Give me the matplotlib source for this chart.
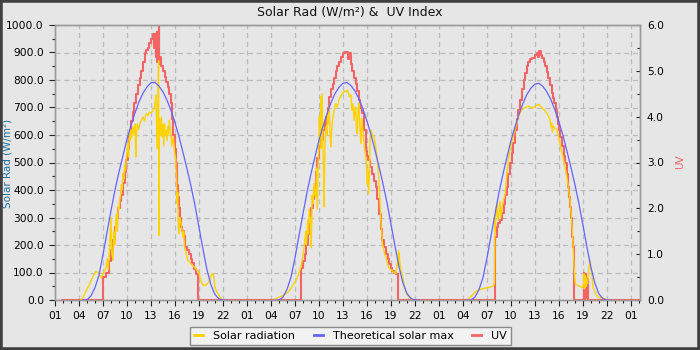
import matplotlib
matplotlib.use("Agg")
import matplotlib.pyplot as plt
import numpy as np
from matplotlib.ticker import FixedLocator, MultipleLocator, FuncFormatter, FormatStrFormatter
from matplotlib.patches import Rectangle
from matplotlib.lines import Line2D

# ---------------- data (clock hours per day) -------------
# Theoretical solar max (W/m2), half-hourly clock times
max_t = [4.5, 5.0, 5.5, 6.0, 6.5, 7.0, 7.5, 8.0, 8.5, 9.0, 9.5, 10.0, 10.5, 11.0, 11.5, 12.0,
         12.5, 13.0, 13.5, 14.0, 14.5, 15.0, 15.5, 16.0, 16.5, 17.0, 17.5, 18.0, 18.5, 19.0,
         19.5, 20.0, 20.5, 21.0, 21.5, 22.0, 22.5]
max_day1 = [0, 1, 15, 45, 90, 165, 245, 325, 400, 465, 525, 585, 635, 680, 720, 752, 775, 790,
            791, 778, 757, 727, 690, 645, 595, 537, 478, 415, 345, 265, 185, 110, 55, 20, 4, 0, 0]
max_day2 = [0, 0, 10, 38, 82, 152, 232, 312, 390, 458, 520, 580, 630, 676, 717, 750, 773, 788,
            791, 780, 760, 732, 695, 652, 603, 546, 487, 424, 356, 278, 198, 122, 63, 24, 6, 0, 0]
max_day3 = [0, 0, 10, 37, 80, 150, 230, 310, 388, 456, 518, 578, 628, 674, 714, 747, 770, 785,
            788, 777, 757, 729, 692, 649, 600, 543, 484, 421, 353, 275, 195, 120, 62, 23, 5, 0, 0]

# Solar radiation (W/m2)
solar_t_day1 = [4.3, 4.6, 4.9, 5.2, 5.5, 5.8, 6.1, 6.35, 6.6, 6.8, 7.0, 7.2, 7.4, 7.55, 7.65,
                7.8, 7.9, 8.0, 8.1, 8.25, 8.35, 8.5, 8.6, 8.7, 8.8, 8.9, 9.0, 9.1, 9.2, 9.3, 9.4,
                9.5, 9.6, 9.7, 9.8, 9.9, 10.0, 10.1, 10.2, 10.3, 10.4, 10.5, 10.6, 10.75, 10.9,
                11.0, 11.1, 11.2, 11.3, 11.45, 11.6, 11.8, 12.0, 12.2, 12.4, 12.6, 12.8, 13.0,
                13.25, 13.4, 13.5, 13.6, 13.7, 13.8, 13.85, 13.95, 14.0, 14.05, 14.15, 14.3, 14.4,
                14.5, 14.6, 14.7, 14.8, 14.9, 15.0, 15.1, 15.2, 15.3, 15.4, 15.5, 15.6, 15.8,
                15.95, 16.1, 16.2, 16.25, 16.35, 16.4, 16.5, 16.6, 16.7, 16.85, 17.0, 17.1, 17.2,
                17.4, 17.6, 17.8, 18.0, 18.2, 18.45, 18.7, 18.9, 19.1, 19.3, 19.5, 19.75, 20.0,
                20.2, 20.4, 20.6, 20.8, 20.9, 21.0, 21.2, 21.4, 21.6, 21.8, 22.2]
solar_v_day1 = [0, 15, 34, 50, 70, 88, 105, 100, 89, 80, 95, 105, 119, 150, 110,
                168, 230, 300, 170, 145, 250, 200, 290, 313, 250, 340, 330, 362, 380, 420, 400,
                460, 440, 490, 470, 508, 540, 570, 520, 605, 580, 620, 590, 630, 600,
                640, 520, 605, 640, 620, 640, 655, 666, 650, 678, 670, 684, 680,
                690, 700, 714, 745, 654, 550, 700, 870, 235, 660, 600, 666, 593,
                640, 560, 640, 600, 617, 580, 630, 600, 654, 620, 605, 560, 593,
                540, 508, 420, 350, 390, 290, 240, 300, 290, 260, 228, 250, 192,
                168, 143, 140, 131, 125, 119, 110, 107, 85, 64, 55, 52, 58,
                64, 80, 95, 95, 70, 46, 32, 22, 12, 4, 0]

solar_t_day2 = [4.5, 4.8, 5.2, 5.6, 6.0, 6.3, 6.7, 7.1, 7.4, 7.75, 8.0, 8.2, 8.35, 8.45, 8.6,
                8.7, 8.8, 8.9, 9.0, 9.05, 9.15, 9.25, 9.4, 9.5, 9.6, 9.7, 9.8, 9.9, 10.0, 10.05,
                10.15, 10.25, 10.3, 10.4, 10.5, 10.6, 10.65, 10.75, 10.9, 11.0, 11.1, 11.2, 11.3,
                11.4, 11.5, 11.6, 11.7, 11.9, 12.1, 12.3, 12.5, 12.7, 12.95, 13.2, 13.4, 13.6,
                13.8, 14.0, 14.1, 14.25, 14.4, 14.5, 14.6, 14.7, 14.8, 14.9, 15.0, 15.1, 15.25,
                15.35, 15.45, 15.6, 15.8, 15.95, 16.05, 16.15, 16.2, 16.3, 16.4, 16.5, 16.7, 16.9,
                17.1, 17.3, 17.5, 17.6, 17.75, 17.95, 18.2, 18.4, 18.6, 18.8, 19.0, 19.2, 19.4,
                19.6, 19.8, 19.95, 20.0, 20.05, 20.1, 20.25, 20.4, 20.55, 20.7, 20.9, 21.1, 21.5,
                21.8]
solar_v_day2 = [0, 8, 12, 18, 25, 34, 50, 70, 90, 119, 160, 204, 250, 200, 290,
                240, 330, 280, 300, 190, 380, 350, 423, 380, 374, 480, 330, 495, 560, 666,
                600, 739, 550, 750, 560, 450, 338, 560, 630, 600, 680, 640, 702,
                600, 556, 620, 654, 690, 714, 700, 727, 740, 751, 760, 757, 763,
                739, 745, 690, 714, 654, 700, 702, 620, 605, 690, 714, 640, 569,
                660, 630, 580, 532, 495, 420, 470, 386, 450, 580, 617, 600, 593,
                560, 508, 435, 380, 290, 204, 170, 155, 130, 113, 110, 107, 100,
                95, 130, 180, 120, 170, 143, 110, 95, 70, 46, 30, 16, 4,
                0]

solar_t_day3 = [4.6, 4.8, 5.1, 5.5, 5.9, 6.4, 6.8, 7.2, 7.5, 7.85, 7.95, 8.0, 8.05, 8.15,
                8.25, 8.35, 8.45, 8.55, 8.65, 8.75, 8.9, 9.1, 9.3, 9.5, 9.7, 9.9, 10.1, 10.3,
                10.55, 10.75, 10.95, 11.2, 11.4, 11.6, 11.8, 12.0, 12.2, 12.4, 12.6, 12.8, 13.0,
                13.25, 13.45, 13.7, 13.9, 14.1, 14.3, 14.5, 14.7, 14.9, 15.0, 15.1, 15.2, 15.3,
                15.5, 15.75, 16.0, 16.2, 16.4, 16.6, 16.8, 17.0, 17.2, 17.4, 17.5, 17.6, 17.7,
                17.8, 17.9, 18.05, 18.45, 18.9, 19.0, 19.1, 19.15, 19.2, 19.25, 19.3, 19.35,
                19.45, 19.5, 19.6, 19.7, 19.8, 19.9, 20.0, 20.1, 20.2, 20.3, 20.5, 20.75, 21.0,
                21.4, 21.8, 22.2]
solar_v_day3 = [0, 7, 15, 28, 35, 40, 43, 46, 48, 52, 60, 290, 250, 330,
                351, 300, 290, 330, 357, 300, 339, 363, 388, 461, 510, 545, 571, 595,
                620, 645, 668, 682, 693, 697, 699, 703, 705, 702, 699, 700, 702,
                708, 711, 705, 699, 693, 687, 678, 668, 655, 630, 644, 610, 632,
                625, 620, 590, 558, 535, 510, 480, 449, 405, 363, 330, 290, 240,
                193, 120, 59, 52, 46, 50, 59, 95, 40, 90, 45, 85,
                50, 71, 60, 100, 120, 144, 120, 107, 70, 46, 30, 16, 10,
                7, 3, 0]

# UV index (step series)
uv_t_day1 = [1.9, 7.0, 7.4, 7.8, 8.0, 8.2, 8.45, 8.7, 8.9, 9.1, 9.3, 9.5, 9.7, 9.9, 10.1, 10.3,
             10.5, 10.7, 10.9, 11.15, 11.4, 11.6, 11.8, 12.0, 12.2, 12.4, 12.6, 12.8, 13.0, 13.25,
             13.4, 13.5, 13.6, 13.7, 13.8, 13.95, 14.05, 14.15, 14.3, 14.5, 14.7, 14.9, 15.1,
             15.3, 15.5, 15.65, 15.8, 15.95, 16.1, 16.2, 16.3, 16.4, 16.5, 16.6, 16.7, 16.9,
             17.1, 17.3, 17.5, 17.75, 17.95, 18.15, 18.4, 18.6, 18.85]
uv_v_day1 = [0, 0.5, 0.6, 0.86, 1.1, 1.3, 1.6, 1.8, 2.0, 2.15, 2.3, 2.55, 2.8, 3.05, 3.3, 3.6,
             3.9, 4.1, 4.3, 4.5, 4.7, 4.85, 5.0, 5.2, 5.4, 5.45, 5.5, 5.6, 5.7, 5.8,
             5.5, 5.8, 5.3, 5.85, 5.2, 6.0, 5.15, 5.3, 5.1, 5.0, 4.87, 4.75, 4.65,
             4.5, 4.3, 3.95, 3.6, 3.3, 3.0, 2.75, 2.5, 2.25, 2.0, 1.8, 1.6, 1.5,
             1.4, 1.15, 1.1, 1.0, 0.9, 0.8, 0.68, 0.57, 0]

uv_t_day2 = [7.75, 8.0, 8.2, 8.4, 8.6, 8.8, 9.0, 9.2, 9.4, 9.6, 9.8, 10.0, 10.2, 10.45, 10.7,
             10.9, 11.1, 11.3, 11.5, 11.7, 11.9, 12.1, 12.3, 12.5, 12.75, 12.95, 13.2, 13.4,
             13.6, 13.8, 14.0, 14.2, 14.4, 14.6, 14.8, 15.0, 15.2, 15.45, 15.65, 15.9, 16.05,
             16.2, 16.45, 16.7, 16.9, 17.1, 17.3, 17.5, 17.75, 17.95, 18.2, 18.4, 18.6, 18.8,
             19.0, 19.2, 19.45, 19.7, 19.9]
uv_v_day2 = [0.7, 0.85, 1.0, 1.2, 1.45, 1.7, 2.0, 2.2, 2.45, 2.8, 3.1, 3.35, 3.5, 3.7, 3.85,
             4.0, 4.2, 4.43, 4.6, 4.72, 4.85, 5.0, 5.1, 5.2, 5.3, 5.38, 5.42, 5.41,
             5.25, 5.38, 5.15, 5.0, 4.85, 4.72, 4.55, 4.36, 4.2, 4.07, 3.7, 3.26, 3.15,
             3.05, 2.9, 2.75, 2.6, 2.46, 2.2, 1.88, 1.55, 1.3, 1.15, 1.0, 0.9, 0.79,
             0.7, 0.64, 0.6, 0.57, 0]

uv_t_day3 = [7.96, 8.05, 8.25, 8.45, 8.65, 8.9, 9.1, 9.3, 9.5, 9.7, 9.9, 10.1, 10.3, 10.5,
             10.75, 10.95, 11.2, 11.4, 11.6, 11.8, 12.0, 12.2, 12.4, 12.6, 12.8, 13.0, 13.25,
             13.4, 13.55, 13.75, 13.9, 14.1, 14.3, 14.5, 14.7, 14.9, 15.1, 15.3, 15.45, 15.6,
             15.75, 15.9, 16.0, 16.2, 16.4, 16.6, 16.8, 17.0, 17.2, 17.3, 17.4, 17.5, 17.6,
             17.7, 17.8, 17.95, 19.1, 19.2, 19.25, 19.35, 19.4, 19.45, 19.55, 19.6, 19.7, 26.2]
uv_v_day3 = [1.0, 1.37, 1.6, 1.68, 1.74, 1.9, 2.1, 2.3, 2.47, 2.75, 3.0, 3.2, 3.42, 3.7,
             3.94, 4.15, 4.37, 4.6, 4.81, 4.95, 5.1, 5.2, 5.25, 5.27, 5.29, 5.35, 5.4,
             5.3, 5.44, 5.35, 5.29, 5.2, 5.1, 4.97, 4.85, 4.7, 4.52, 4.4, 4.3, 4.15,
             4.0, 3.85, 3.72, 3.55, 3.35, 3.15, 2.98, 2.75, 2.47, 2.25, 2.03, 1.8, 1.6,
             1.38, 1.16, 0, 0.6, 0, 0.57, 0.45, 0.1, 0.45, 0.05, 0.45, 0, 0]

x_ticks_start = 1
x_end = 74.15


# ---------------- assemble ----------------
def days(ts, vs, gap=False):
    xs, ys = [], []
    for d, (t, v) in enumerate(zip(ts, vs)):
        xs.append(np.asarray(t, float) + 24 * d)
        ys.append(np.asarray(v, float))
        if gap:
            xs.append(np.array([np.nan]))
            ys.append(np.array([np.nan]))
    return np.concatenate(xs), np.concatenate(ys)


mx, my = days([max_t, max_t, max_t], [max_day1, max_day2, max_day3], gap=True)
sx, sy = days([solar_t_day1, solar_t_day2, solar_t_day3],
              [solar_v_day1, solar_v_day2, solar_v_day3], gap=True)
ux, uy = days([uv_t_day1, uv_t_day2, uv_t_day3], [uv_v_day1, uv_v_day2, uv_v_day3])

BG = "#e6e6e6"
YEL = "#ffd200"
BLU = "#6464ff"
RED = "#f46464"

fig = plt.figure(figsize=(7, 3.5), dpi=100, facecolor=BG)
ax = fig.add_axes([55 / 700, 50 / 350, 585 / 700, 275 / 350])
ax.set_facecolor(BG)
ax2 = ax.twinx()
# draw UV underneath the radiation lines
ax.set_zorder(ax2.get_zorder() + 1)
ax.patch.set_visible(False)
ax2.patch.set_visible(True)
ax2.patch.set_facecolor(BG)

ax.plot(sx, sy, color=YEL, lw=1.0, zorder=3)
ax.plot(mx, my, color=BLU, lw=0.9, zorder=4)
ax2.plot(ux, uy, color=RED, lw=1.5, drawstyle="steps-post", zorder=3)

ax.set_xlim(1, x_end)
ax.set_ylim(0, 1000)
ax2.set_ylim(0, 6)

ax.xaxis.set_major_locator(FixedLocator(np.arange(x_ticks_start, 76, 3)))
ax.xaxis.set_minor_locator(MultipleLocator(1))
ax.xaxis.set_major_formatter(FuncFormatter(lambda v, p: f"{int(round(v)) % 24:02d}"))
ax.yaxis.set_major_locator(MultipleLocator(100))
ax.yaxis.set_minor_locator(MultipleLocator(50))
ax.yaxis.set_major_formatter(FormatStrFormatter("%.1f"))
ax2.yaxis.set_major_locator(MultipleLocator(1))
ax2.yaxis.set_minor_locator(MultipleLocator(0.5))
ax2.yaxis.set_major_formatter(FormatStrFormatter("%.1f"))

# grid drawn on the lower (UV) axes so it stays beneath every line
for xv in np.arange(x_ticks_start, 76, 3):
    if 1 < xv < x_end:
        ax2.axvline(xv, linestyle=(0, (4, 3)), color="#bcbcbc", linewidth=0.9, zorder=0)
for yv in np.arange(0.6, 6.0, 0.6):
    ax2.axhline(yv, linestyle=(0, (4, 3)), color="#bcbcbc", linewidth=0.9, zorder=0)

for a in (ax, ax2):
    for s in a.spines.values():
        s.set_color("#9a9a9a")
        s.set_linewidth(1.0)

ax.tick_params(axis="both", which="major", length=4, width=0.8, color="#222222",
               labelsize=7.7, pad=4, direction="out")
ax.tick_params(axis="both", which="minor", length=2.2, width=0.8, color="#222222", direction="out")
ax2.tick_params(axis="y", which="major", length=3, width=0.8, color="#222222",
                labelsize=7.7, pad=5, direction="in")
ax2.tick_params(axis="y", which="minor", length=2.2, width=0.8, color="#222222", direction="in")

fig.text(0.5, 1 - 12 / 350, "Solar Rad (W/m²) &  UV Index", ha="center", va="center",
         fontsize=9, color="#111111")
fig.text(8 / 700, 1 - 163 / 350, "Solar Rad (W/m²)", rotation=90, ha="center", va="center",
         fontsize=7.5, color="#1a6fa0")
fig.text(680 / 700, 1 - 162 / 350, "UV", rotation=90, ha="center", va="center",
         fontsize=7.5, color=RED)

handles = [Line2D([], [], color=YEL, lw=2), Line2D([], [], color=BLU, lw=2),
           Line2D([], [], color=RED, lw=2)]
leg = fig.legend(handles, ["Solar radiation", "Theoretical solar max", "UV"],
                 loc="center", bbox_to_anchor=(350.5 / 700, 1 - 336 / 350), ncol=3,
                 fancybox=False, frameon=True, facecolor="#f2f2f2", edgecolor="#8a8a8a",
                 fontsize=8, handlelength=0.8, handletextpad=0.9, columnspacing=1.7,
                 borderpad=0.35, borderaxespad=0)
leg.get_frame().set_linewidth(1.0)
leg.get_frame().set_alpha(1)

fig.patches.append(Rectangle((0, 0), 1, 1, transform=fig.transFigure, fill=False,
                             edgecolor="#404040", linewidth=4, zorder=10))

fig.savefig("out.png", dpi=100, facecolor=BG)
